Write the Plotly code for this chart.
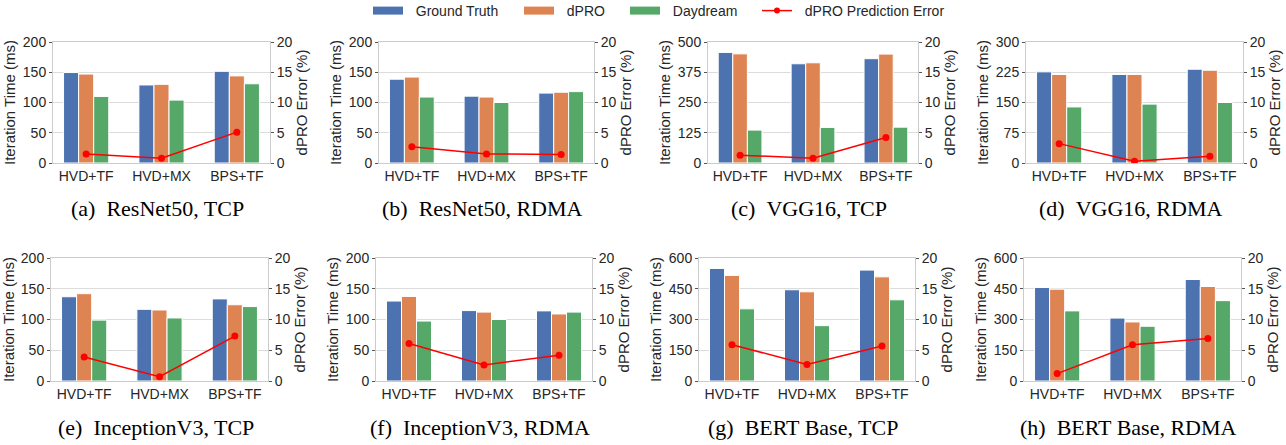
import plotly.graph_objects as go

# ---------------- data ----------------
categories = ["HVD+TF", "HVD+MX", "BPS+TF"]

panel_titles = [
    "(a)\u00a0\u00a0ResNet50, TCP",
    "(b)\u00a0\u00a0ResNet50, RDMA",
    "(c)\u00a0\u00a0VGG16, TCP",
    "(d)\u00a0\u00a0VGG16, RDMA",
    "(e)\u00a0\u00a0InceptionV3, TCP",
    "(f)\u00a0\u00a0InceptionV3, RDMA",
    "(g)\u00a0\u00a0BERT Base, TCP",
    "(h)\u00a0\u00a0BERT Base, RDMA",
]

ground_truth = [
    [149.5, 129, 151.5],
    [138.5, 110.5, 115.5],
    [457, 410, 431],
    [226, 219.5, 232.5],
    [137, 116.5, 133.5],
    [130, 114.5, 114],
    [549, 445, 541],
    [456, 307, 495],
]
dpro = [
    [147, 130, 144],
    [142, 109, 117],
    [451, 414, 450],
    [219.5, 219.5, 230],
    [142, 115.5, 124],
    [137.5, 112, 109],
    [515, 435, 508],
    [448, 288, 461],
]
daydream = [
    [110, 104, 131],
    [109, 100, 118],
    [136, 147, 148],
    [139, 146, 150],
    [99, 102.5, 121],
    [97.5, 100, 112],
    [352, 270, 396],
    [342, 267, 392],
]
dpro_error = [
    [1.5, 0.8, 5.1],
    [2.7, 1.5, 1.4],
    [1.3, 0.8, 4.2],
    [3.2, 0.3, 1.1],
    [3.9, 0.7, 7.3],
    [6.1, 2.6, 4.2],
    [5.9, 2.7, 5.7],
    [1.2, 5.9, 6.9],
]
left_axis_max = [200, 200, 500, 300, 200, 200, 600, 600]
left_axis_step = [50, 50, 125, 75, 50, 50, 150, 150]
error_axis_max = 20
error_axis_step = 5
series_names = ["Ground Truth", "dPRO", "Daydream", "dPRO Prediction Error"]

# ---------------- layout constants ----------------
W, H = 1286, 445
x_px = [(53, 270), (379, 594), (708, 918), (1026, 1243),
        (51, 268), (376, 592), (699, 915), (1024, 1241)]
row_px = [(42, 163), (42, 163), (42, 163), (42, 163),
          (258, 381), (258, 381), (258, 381), (258, 381)]
title_y_px = [209] * 4 + [427] * 4
legend_x_px = [373, 524, 630, 762]

C_GT = "#4C72B0"
C_DPRO = "#DD8452"
C_DD = "#55A868"
C_ERR = "#FF0000"
TXT = "#262626"
SPINE = "#cccccc"
GRID = "#dcdcdc"
TICK = "#555555"
bar_colors = [C_GT, C_DPRO, C_DD]
bar_series = [ground_truth, dpro, daydream]

fig = go.Figure()
layout = {}
annotations = []

for i in range(8):
    n = i + 1
    xa = "x" if n == 1 else f"x{n}"
    ya = "y" if n == 1 else f"y{n}"
    ya2 = f"y{n + 8}"
    for s in range(3):
        fig.add_trace(go.Bar(x=categories, y=bar_series[s][i], name=series_names[s],
                             marker=dict(color=bar_colors[s],
                                         line=dict(color="white", width=1)),
                             xaxis=xa, yaxis=ya, showlegend=False))
    fig.add_trace(go.Scatter(x=categories, y=dpro_error[i], name=series_names[3],
                             mode="lines+markers",
                             line=dict(color=C_ERR, width=1.5),
                             marker=dict(color=C_ERR, size=7),
                             xaxis=xa, yaxis=ya2, showlegend=False))

    x0, x1 = x_px[i]
    t0, t1 = row_px[i]
    xdom = [x0 / W, x1 / W]
    ydom = [1 - t1 / H, 1 - t0 / H]
    xkey = "xaxis" if n == 1 else f"xaxis{n}"
    ykey = "yaxis" if n == 1 else f"yaxis{n}"
    ykey2 = f"yaxis{n + 8}"

    layout[xkey] = dict(domain=xdom, anchor=ya, range=[-0.44, 2.44], automargin=False,
                        showline=True, linecolor=SPINE, linewidth=1, mirror=True,
                        showgrid=False, ticks="", zeroline=False,
                        tickfont=dict(family="Liberation Sans", size=14, color=TXT))
    layout[ykey] = dict(domain=ydom, anchor=xa, range=[0, left_axis_max[i]], automargin=False,
                        tickmode="linear", tick0=0, dtick=left_axis_step[i],
                        showline=True, linecolor=SPINE, linewidth=1,
                        showgrid=True, gridcolor=GRID, gridwidth=1.2,
                        zeroline=False, ticks="outside", ticklen=3, tickcolor=TICK,
                        tickfont=dict(family="Liberation Sans", size=14, color=TXT),
                        title=dict(text="Iteration Time (ms)", standoff=3,
                                   font=dict(family="Liberation Sans", size=15, color=TXT)))
    layout[ykey2] = dict(overlaying=ya, anchor=xa, side="right", automargin=False,
                         range=[0, error_axis_max], tickmode="linear", tick0=0,
                         dtick=error_axis_step,
                         showline=True, linecolor=SPINE, linewidth=1,
                         showgrid=False, zeroline=False,
                         ticks="outside", ticklen=3, tickcolor=TICK,
                         tickfont=dict(family="Liberation Sans", size=14, color=TXT),
                         title=dict(text="dPRO Error (%)", standoff=3,
                                    font=dict(family="Liberation Sans", size=15, color=TXT)))
    annotations.append(dict(text=panel_titles[i], xref="paper", yref="paper",
                            x=((x0 + x1) / 2 - 4) / W, y=1 - title_y_px[i] / H,
                            xanchor="center", yanchor="middle", showarrow=False,
                            font=dict(family="Liberation Serif", size=22, color="black")))

# legend-only entries (wide swatches like the reference)
legend_names = ["legend", "legend2", "legend3", "legend4"]
for s in range(3):
    fig.add_trace(go.Scatter(x=[None], y=[None], mode="lines",
                             name="\u00a0\u00a0" + series_names[s],
                             line=dict(color=bar_colors[s], width=8),
                             legend=legend_names[s], showlegend=True, hoverinfo="skip"))
fig.add_trace(go.Scatter(x=[None], y=[None], mode="lines+markers",
                         name="\u00a0\u00a0" + series_names[3],
                         line=dict(color=C_ERR, width=1.5), marker=dict(color=C_ERR, size=6),
                         legend=legend_names[3], showlegend=True, hoverinfo="skip"))

for k, lname in enumerate(legend_names):
    layout[lname] = dict(orientation="h", xref="container", yref="container",
                         x=(legend_x_px[k] - 5) / W, xanchor="left",
                         y=1 - 11 / H, yanchor="middle", itemwidth=30,
                         font=dict(family="Liberation Sans", size=14, color=TXT),
                         bgcolor="rgba(0,0,0,0)", borderwidth=0)

fig.update_layout(
    width=W, height=H,
    margin=dict(l=0, r=0, t=0, b=0, autoexpand=False),
    paper_bgcolor="white", plot_bgcolor="white",
    barmode="group", bargap=0.4, bargroupgap=0.0,
    showlegend=True,
    annotations=annotations,
    **layout,
)

fig.write_html("out.html", config={"displayModeBar": False},
               post_script="document.body.style.margin='0';document.body.style.overflow='hidden';")
